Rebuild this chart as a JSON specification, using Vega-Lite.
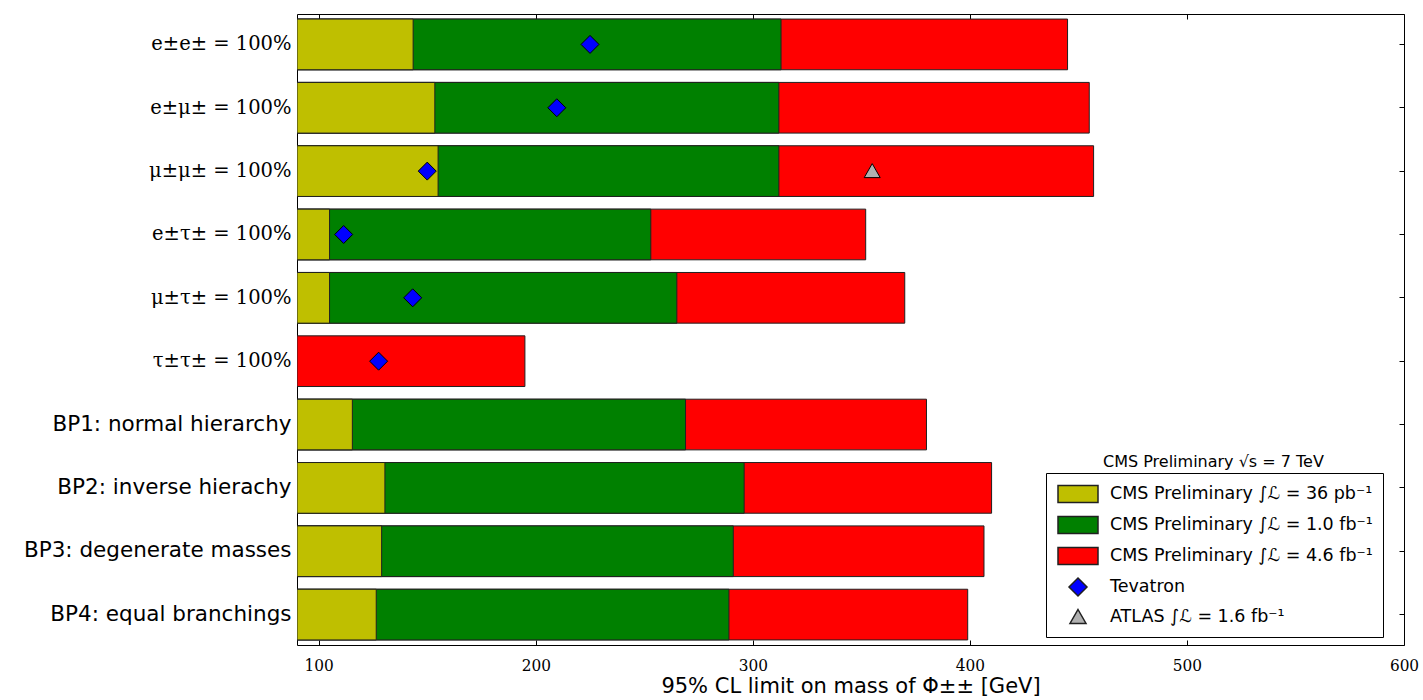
{
  "$schema": "https://vega.github.io/schema/vega-lite/v6.json",
  "width": 1107,
  "height": 631,
  "autosize": "none",
  "padding": {"left": 297, "top": 14, "right": 19, "bottom": 55},
  "background": "white",
  "config": {
    "view": {"stroke": "black", "strokeWidth": 1},
    "axis": {"grid": false, "domain": false, "tickColor": "black", "labelColor": "black", "titleColor": "black"}
  },
  "title": {
    "text": "CMS Preliminary √s = 7 TeV",
    "orient": "top",
    "anchor": "start",
    "frame": "group",
    "dx": 806,
    "dy": 460,
    "font": "DejaVu Sans",
    "fontSize": 16,
    "fontWeight": "normal",
    "color": "black"
  },
  "datasets": {
    "bars": [
      {"cat": "e±e± = 100%", "series": "CMS Preliminary ∫ℒ = 4.6 fb⁻¹", "v": 445},
      {"cat": "e±μ± = 100%", "series": "CMS Preliminary ∫ℒ = 4.6 fb⁻¹", "v": 455},
      {"cat": "μ±μ± = 100%", "series": "CMS Preliminary ∫ℒ = 4.6 fb⁻¹", "v": 457},
      {"cat": "e±τ± = 100%", "series": "CMS Preliminary ∫ℒ = 4.6 fb⁻¹", "v": 352},
      {"cat": "μ±τ± = 100%", "series": "CMS Preliminary ∫ℒ = 4.6 fb⁻¹", "v": 370},
      {"cat": "τ±τ± = 100%", "series": "CMS Preliminary ∫ℒ = 4.6 fb⁻¹", "v": 195},
      {"cat": "BP1: normal hierarchy", "series": "CMS Preliminary ∫ℒ = 4.6 fb⁻¹", "v": 380},
      {"cat": "BP2: inverse hierachy", "series": "CMS Preliminary ∫ℒ = 4.6 fb⁻¹", "v": 410},
      {"cat": "BP3: degenerate masses", "series": "CMS Preliminary ∫ℒ = 4.6 fb⁻¹", "v": 406.5},
      {"cat": "BP4: equal branchings", "series": "CMS Preliminary ∫ℒ = 4.6 fb⁻¹", "v": 399},
      {"cat": "e±e± = 100%", "series": "CMS Preliminary ∫ℒ = 1.0 fb⁻¹", "v": 313},
      {"cat": "e±μ± = 100%", "series": "CMS Preliminary ∫ℒ = 1.0 fb⁻¹", "v": 312},
      {"cat": "μ±μ± = 100%", "series": "CMS Preliminary ∫ℒ = 1.0 fb⁻¹", "v": 312},
      {"cat": "e±τ± = 100%", "series": "CMS Preliminary ∫ℒ = 1.0 fb⁻¹", "v": 253},
      {"cat": "μ±τ± = 100%", "series": "CMS Preliminary ∫ℒ = 1.0 fb⁻¹", "v": 265},
      {"cat": "BP1: normal hierarchy", "series": "CMS Preliminary ∫ℒ = 1.0 fb⁻¹", "v": 269},
      {"cat": "BP2: inverse hierachy", "series": "CMS Preliminary ∫ℒ = 1.0 fb⁻¹", "v": 296},
      {"cat": "BP3: degenerate masses", "series": "CMS Preliminary ∫ℒ = 1.0 fb⁻¹", "v": 291},
      {"cat": "BP4: equal branchings", "series": "CMS Preliminary ∫ℒ = 1.0 fb⁻¹", "v": 289},
      {"cat": "e±e± = 100%", "series": "CMS Preliminary ∫ℒ = 36 pb⁻¹", "v": 143.5},
      {"cat": "e±μ± = 100%", "series": "CMS Preliminary ∫ℒ = 36 pb⁻¹", "v": 153.5},
      {"cat": "μ±μ± = 100%", "series": "CMS Preliminary ∫ℒ = 36 pb⁻¹", "v": 155},
      {"cat": "e±τ± = 100%", "series": "CMS Preliminary ∫ℒ = 36 pb⁻¹", "v": 105},
      {"cat": "μ±τ± = 100%", "series": "CMS Preliminary ∫ℒ = 36 pb⁻¹", "v": 105},
      {"cat": "BP1: normal hierarchy", "series": "CMS Preliminary ∫ℒ = 36 pb⁻¹", "v": 115.5},
      {"cat": "BP2: inverse hierachy", "series": "CMS Preliminary ∫ℒ = 36 pb⁻¹", "v": 130.5},
      {"cat": "BP3: degenerate masses", "series": "CMS Preliminary ∫ℒ = 36 pb⁻¹", "v": 129},
      {"cat": "BP4: equal branchings", "series": "CMS Preliminary ∫ℒ = 36 pb⁻¹", "v": 126.5}
    ],
    "pts": [
      {"cat": "e±e± = 100%", "series": "Tevatron", "v": 225},
      {"cat": "e±μ± = 100%", "series": "Tevatron", "v": 209.7},
      {"cat": "μ±μ± = 100%", "series": "Tevatron", "v": 150},
      {"cat": "e±τ± = 100%", "series": "Tevatron", "v": 111.5},
      {"cat": "μ±τ± = 100%", "series": "Tevatron", "v": 143.3},
      {"cat": "τ±τ± = 100%", "series": "Tevatron", "v": 127.6},
      {"cat": "μ±μ± = 100%", "series": "ATLAS ∫ℒ = 1.6 fb⁻¹", "v": 355}
    ]
  },
  "layer": [
    {
      "data": {"name": "bars"},
      "mark": {"type": "bar", "stroke": "#202020", "strokeWidth": 1, "opacity": 1, "clip": true},
      "encoding": {
        "y": {
          "field": "cat", "type": "nominal", "title": null,
          "scale": {"domain": ["e±e± = 100%", "e±μ± = 100%", "μ±μ± = 100%", "e±τ± = 100%", "μ±τ± = 100%", "τ±τ± = 100%", "BP1: normal hierarchy", "BP2: inverse hierachy", "BP3: degenerate masses", "BP4: equal branchings"], "paddingInner": 0.2, "paddingOuter": 0.08},
          "axis": {
            "orient": "left", "ticks": true, "tickSize": -5, "labelPadding": 11,
            "labelFont": {"condition": {"test": "indexof(datum.label, 'BP') === 0", "value": "DejaVu Sans"}, "value": "DejaVu Serif"},
            "labelFontSize": {"condition": {"test": "indexof(datum.label, 'BP') === 0", "value": 21.5}, "value": 19.5},
            "labelLimit": 300
          }
        },
        "x": {
          "field": "v", "type": "quantitative",
          "scale": {"domain": [90, 600], "nice": false, "zero": false},
          "axis": {
            "orient": "bottom", "values": [100, 200, 300, 400, 500, 600], "tickSize": -5, "labelPadding": 17,
            "labelFont": "DejaVu Serif Condensed, Liberation Serif", "labelFontSize": 17, "labelFlush": false,
            "title": "95% CL limit on mass of Φ±± [GeV]", "titleFont": "DejaVu Sans", "titleFontSize": 21, "titleFontWeight": "normal", "titlePadding": 2
          }
        },
        "x2": {"datum": 90},
        "color": {
          "field": "series", "type": "nominal",
          "scale": {
            "domain": ["CMS Preliminary ∫ℒ = 36 pb⁻¹", "CMS Preliminary ∫ℒ = 1.0 fb⁻¹", "CMS Preliminary ∫ℒ = 4.6 fb⁻¹", "Tevatron", "ATLAS ∫ℒ = 1.6 fb⁻¹"],
            "range": ["#bfbf00", "#008000", "#ff0000", "#0000ff", "#b0b0b0"]
          },
          "legend": {
            "title": null, "orient": "none", "legendX": 749, "legendY": 459,
            "padding": 10, "strokeColor": "black", "fillColor": "white",
            "symbolSize": 400, "symbolOffset": 11, "labelFont": "DejaVu Sans", "labelFontSize": 17.5, "labelColor": "black",
            "rowPadding": 7, "labelOffset": 21, "labelLimit": 400,
            "encode": {"symbols": {"update": {"stroke": {"value": "black"}, "strokeWidth": {"value": 1}, "opacity": {"value": 1}}}}
          }
        }
      }
    },
    {
      "data": {"name": "pts"},
      "mark": {"type": "point", "filled": true, "size": 400, "stroke": "black", "strokeWidth": 1, "opacity": 1},
      "encoding": {
        "y": {"field": "cat", "type": "nominal", "axis": {"orient": "right", "labels": false, "ticks": true, "tickSize": -5, "title": null}},
        "x": {"field": "v", "type": "quantitative", "axis": {"orient": "top", "labels": false, "values": [100, 200, 300, 400, 500, 600], "tickSize": -5, "title": null}},
        "color": {"field": "series", "type": "nominal"},
        "shape": {
          "field": "series", "type": "nominal",
          "scale": {
            "domain": ["CMS Preliminary ∫ℒ = 36 pb⁻¹", "CMS Preliminary ∫ℒ = 1.0 fb⁻¹", "CMS Preliminary ∫ℒ = 4.6 fb⁻¹", "Tevatron", "ATLAS ∫ℒ = 1.6 fb⁻¹"],
            "range": ["M-2,-0.85H2V0.85H-2Z", "M-2,-0.85H2V0.85H-2Z", "M-2,-0.85H2V0.85H-2Z", "M0,-0.9L0.9,0L0,0.9L-0.9,0Z", "M0,-0.75L0.8,0.65L-0.8,0.65Z"]
          },
          "legend": {
            "title": null, "orient": "none", "legendX": 749, "legendY": 459,
            "padding": 10, "strokeColor": "black", "fillColor": "white",
            "symbolSize": 400, "symbolOffset": 11, "labelFont": "DejaVu Sans", "labelFontSize": 17.5, "labelColor": "black",
            "rowPadding": 7, "labelOffset": 21, "labelLimit": 400,
            "encode": {"symbols": {"update": {"stroke": {"value": "black"}, "strokeWidth": {"value": 1}, "opacity": {"value": 1}}}}
          }
        }
      }
    }
  ],
  "resolve": {"axis": {"x": "independent", "y": "independent"}}
}
